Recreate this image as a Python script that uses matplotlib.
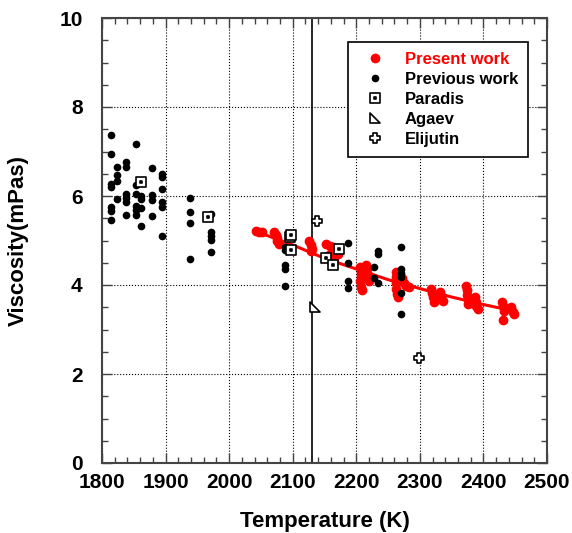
import numpy as np
import matplotlib
matplotlib.use("Agg")
import matplotlib.pyplot as plt
from matplotlib.path import Path
from matplotlib.ticker import MultipleLocator

plt.rcParams['font.family'] = ['Liberation Sans', 'DejaVu Sans']
plt.rcParams['font.weight'] = 'bold'

# Present work (red)
present_T = [2043, 2047, 2052,
             2070, 2073, 2075, 2076, 2078,
             2126, 2128, 2130, 2129,
             2153, 2158, 2163, 2168, 2157, 2165, 2172,
             2206, 2208, 2207, 2206, 2207, 2209, 2215, 2217, 2219, 2220,
             2262, 2263, 2262, 2263, 2264, 2265, 2272, 2275, 2278, 2283,
             2318, 2319, 2320, 2322, 2332, 2334, 2336,
             2373, 2374, 2374, 2375, 2376, 2387, 2388, 2389, 2391,
             2430, 2431, 2432, 2431, 2443, 2446, 2448]
present_v = [5.22, 5.20, 5.18,
             5.18, 5.12, 5.05, 4.98, 4.93,
             4.98, 4.90, 4.82, 4.76,
             4.93, 4.88, 4.85, 4.80, 4.68, 4.60, 4.70,
             4.40, 4.30, 4.20, 4.08, 3.95, 3.88, 4.45, 4.35, 4.22, 4.10,
             4.30, 4.18, 4.05, 3.92, 3.80, 3.72, 4.15, 4.05, 3.98, 3.95,
             3.92, 3.82, 3.72, 3.62, 3.85, 3.75, 3.63,
             3.98, 3.88, 3.78, 3.68, 3.58, 3.72, 3.62, 3.52, 3.45,
             3.62, 3.52, 3.42, 3.22, 3.50, 3.40, 3.34]

# Fit line through present work
fit_T = [2043, 2100, 2150, 2200, 2250, 2300, 2350, 2400, 2437]
fit_v = [5.20, 4.90, 4.60, 4.36, 4.12, 3.92, 3.73, 3.56, 3.45]

# Previous work (black dots)
prev_T = [1814, 1814, 1814, 1814, 1814, 1814, 1814,
          1824, 1824, 1824, 1824,
          1837, 1837, 1837, 1837, 1837, 1837,
          1853, 1853, 1853, 1853, 1853, 1853,
          1862, 1862, 1862, 1862,
          1878, 1878, 1878, 1878,
          1894, 1894, 1894, 1894, 1894, 1894,
          1938, 1938, 1938, 1938,
          1972, 1972, 1972, 1972, 1972,
          2088, 2088, 2088, 2088, 2088,
          2187, 2187, 2187, 2187,
          2234, 2234, 2228, 2228, 2234,
          2271, 2271, 2271, 2271, 2271, 2271]
prev_v = [7.36, 6.94, 6.28, 6.20, 5.76, 5.67, 5.46,
          6.66, 6.47, 6.34, 5.93,
          6.77, 6.66, 6.04, 5.95, 5.87, 5.57,
          7.16, 6.25, 6.04, 5.78, 5.69, 5.57,
          6.00, 5.93, 5.72, 5.33,
          6.62, 6.02, 5.91, 5.54,
          6.49, 6.42, 6.15, 5.87, 5.76, 5.10,
          5.96, 5.63, 5.39, 4.58,
          5.59, 5.20, 5.10, 5.01, 4.75,
          4.85, 4.78, 4.45, 4.35, 3.98,
          4.94, 4.50, 4.10, 3.93,
          4.77, 4.69, 4.40, 4.15, 4.05,
          4.86, 4.37, 4.26, 4.18, 3.83, 3.35]

paradis_T = [1862, 1967, 2095, 2098, 2097, 2153, 2164, 2173]
paradis_v = [6.32, 5.53, 5.07, 5.12, 4.79, 4.61, 4.45, 4.80]

agaev_T = [2135]
agaev_v = [3.51]

elijutin_T = [2138, 2299]
elijutin_v = [5.44, 2.37]

marker_line_T = 2130

# custom markers
sq_path = Path([(-1, -1), (1, -1), (1, 1), (-1, 1), (-1, -1),
                (-0.15, -0.15), (0.15, -0.15), (0.15, 0.15), (-0.15, 0.15), (-0.15, -0.15)],
               [Path.MOVETO, Path.LINETO, Path.LINETO, Path.LINETO, Path.CLOSEPOLY] * 2)
tri_path = Path([(-1, 1), (-1, -1), (1, -1), (-1, 1)],
                [Path.MOVETO, Path.LINETO, Path.LINETO, Path.CLOSEPOLY])
w = 0.35
plus_path = Path([(-w, 1), (w, 1), (w, w), (1, w), (1, -w), (w, -w), (w, -1),
                  (-w, -1), (-w, -w), (-1, -w), (-1, w), (-w, w), (-w, 1)],
                 [Path.MOVETO] + [Path.LINETO] * 11 + [Path.CLOSEPOLY])

fig = plt.figure(figsize=(5.72, 5.33), dpi=100)
ax = fig.add_axes([102 / 572, 70 / 533, 445 / 572, 445 / 533])

ax.axvline(marker_line_T, color='black', lw=1.2, zorder=2)
ax.plot(fit_T, fit_v, color='red', lw=2.2, zorder=3)
ax.plot(present_T, present_v, 'o', color='red', ms=6, mec='red', ls='none',
        label='Present work', zorder=4)
ax.plot(prev_T, prev_v, 'o', color='black', ms=4.5, ls='none',
        label='Previous work', zorder=4)
ax.plot(paradis_T, paradis_v, marker=sq_path, ms=7, mfc='white', mec='black',
        mew=1.2, ls='none', label='Paradis', zorder=5)
ax.plot(agaev_T, agaev_v, marker=tri_path, ms=7, mfc='white', mec='black',
        mew=1.2, ls='none', label='Agaev', zorder=5)
ax.plot(elijutin_T, elijutin_v, marker=plus_path, ms=7, mfc='white', mec='black',
        mew=1.2, ls='none', label='Elijutin', zorder=5)

ax.set_xlim(1800, 2500)
ax.set_ylim(0, 10)
ax.xaxis.set_major_locator(MultipleLocator(100))
ax.xaxis.set_minor_locator(MultipleLocator(20))
ax.yaxis.set_major_locator(MultipleLocator(2))
ax.yaxis.set_minor_locator(MultipleLocator(0.5))
ax.grid(True, which='major', color='black', linestyle=':', linewidth=0.8)
ax.set_axisbelow(True)

ax.tick_params(which='both', direction='in', top=True, right=True,
               color='#444444', labelsize=15)
ax.tick_params(which='major', length=7, width=1.0)
ax.tick_params(which='minor', length=4, width=1.0)
ax.tick_params(axis='x', pad=7)
ax.tick_params(axis='y', pad=14)
for lab in ax.get_xticklabels() + ax.get_yticklabels():
    lab.set_fontweight('bold')
for sp in ax.spines.values():
    sp.set_color('#444444')
    sp.set_linewidth(1.5)

ax.set_xlabel('Temperature (K)', fontsize=16, fontweight='bold', labelpad=14)
ax.set_ylabel('Viscosity(mPas)', fontsize=16, fontweight='bold', labelpad=22)

leg = ax.legend(loc='upper left', bbox_to_anchor=(0.553, 0.946), borderaxespad=0,
                frameon=True, fancybox=False, edgecolor='black', framealpha=1,
                prop={'size': 12, 'weight': 'bold'}, labelspacing=0.3,
                handlelength=2.0, handletextpad=0.8, borderpad=0.6)
leg.get_frame().set_linewidth(1.2)
leg.get_texts()[0].set_color('red')

plt.savefig('out.png', dpi=100)
